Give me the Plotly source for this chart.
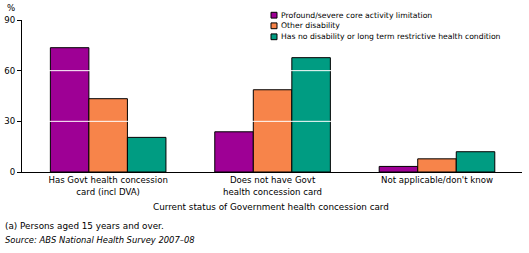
"""Government health concession card status by disability status."""

import plotly.graph_objects as go

categories = [
    "Has Govt health concession<br>card (incl DVA)",
    "Does not have Govt<br>health concession card",
    "Not applicable/don't know",
]
series_names = [
    "Profound/severe core activity limitation",
    "Other disability",
    "Has no disability or long term restrictive health condition",
]
profound = [73.6, 23.8, 3.3]
other_disability = [43.4, 48.7, 7.8]
no_disability = [20.5, 67.7, 12.0]
y_ticks = [0, 30, 60, 90]

colours = ["#9E0095", "#F7844A", "#009C82"]
FONT = "DejaVu Sans"

fig = go.Figure()

for name, values, colour in zip(series_names, [profound, other_disability, no_disability], colours):
    fig.add_trace(
        go.Bar(
            name=name,
            x=categories,
            y=values,
            marker=dict(color=colour, line=dict(color="black", width=1)),
            showlegend=False,
        )
    )

# white gridlines sit on top of the bars
for v in y_ticks[1:-1]:
    fig.add_shape(
        type="line", xref="paper", x0=0, x1=1, yref="y", y0=v, y1=v,
        line=dict(color="white", width=1), layer="above",
    )

# hand-made legend: small squares + text, top right
legend_rows = [1.0316, 0.9618, 0.8895]
for name, colour, yc in zip(series_names, colours, legend_rows):
    fig.add_shape(
        type="rect", xref="paper", yref="paper",
        x0=0.498, x1=0.510, y0=yc - 0.019, y1=yc + 0.019,
        fillcolor=colour, line=dict(color="black", width=1), layer="above",
    )
    fig.add_annotation(
        text=name, xref="paper", yref="paper", x=0.514, y=yc,
        xanchor="left", yanchor="middle", showarrow=False, font=dict(size=7.7),
    )

fig.update_layout(
    width=529,
    height=253,
    margin=dict(l=22, r=7, t=20, b=81),
    paper_bgcolor="white",
    plot_bgcolor="white",
    barmode="group",
    bargap=0.297,
    bargroupgap=0,
    showlegend=False,
    font=dict(family=FONT, size=8.6, color="black"),
    xaxis=dict(
        range=[-0.524, 2.517],
        showline=True,
        linecolor="black",
        linewidth=1,
        ticks="",
        tickfont=dict(size=8.6),
        automargin=False,
    ),
    yaxis=dict(
        range=[0, 90],
        tickvals=y_ticks,
        showline=True,
        linecolor="black",
        linewidth=1,
        ticks="outside",
        ticklen=4,
        tickcolor="black",
        showgrid=False,
        zeroline=False,
        tickfont=dict(size=8.6),
        automargin=False,
    ),
)

fig.add_annotation(text="%", xref="paper", yref="paper", x=-0.022, y=1.082,
                   xanchor="center", yanchor="middle", showarrow=False, font=dict(size=8.6))
fig.add_annotation(text="Current status of Government health concession card",
                   xref="paper", yref="paper", x=0.497, y=-0.232,
                   xanchor="center", yanchor="middle", showarrow=False, font=dict(size=8.8))
fig.add_annotation(text="(a) Persons aged 15 years and over.", xref="paper", yref="paper",
                   x=-0.038, y=-0.352, xanchor="left", yanchor="middle", showarrow=False,
                   font=dict(size=8.8))
fig.add_annotation(text="<i>Source: ABS National Health Survey 2007–08</i>", xref="paper",
                   yref="paper", x=-0.038, y=-0.446, xanchor="left", yanchor="middle",
                   showarrow=False, font=dict(size=8.4))

# drop the browser's default body margin so the figure sits at the window corner
fig.write_html(
    "out.html",
    config={"displayModeBar": False},
    post_script="document.body.style.margin = '0';",
)
